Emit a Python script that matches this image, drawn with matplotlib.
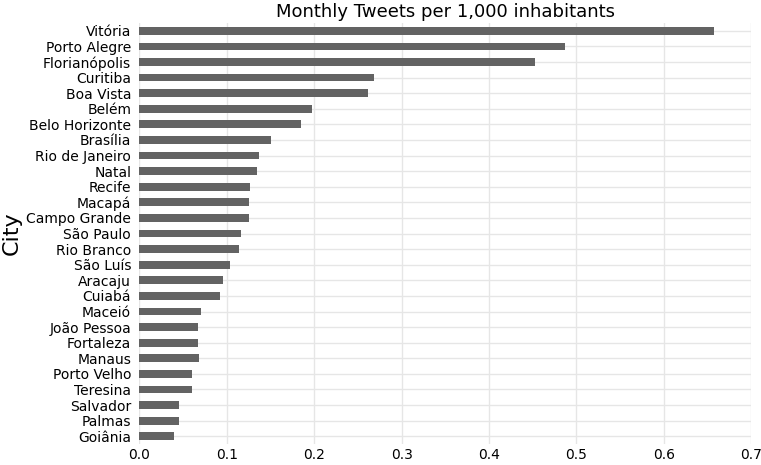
import matplotlib
matplotlib.use('Agg')
import matplotlib.pyplot as plt

# Monthly tweets per 1,000 inhabitants (top to bottom)
cities = ['Vitória', 'Porto Alegre', 'Florianópolis', 'Curitiba', 'Boa Vista',
          'Belém', 'Belo Horizonte', 'Brasília', 'Rio de Janeiro', 'Natal',
          'Recife', 'Macapá', 'Campo Grande', 'São Paulo', 'Rio Branco',
          'São Luís', 'Aracaju', 'Cuiabá', 'Maceió', 'João Pessoa',
          'Fortaleza', 'Manaus', 'Porto Velho', 'Teresina', 'Salvador',
          'Palmas', 'Goiânia']
tweets = [0.658, 0.487, 0.453, 0.269, 0.261,
          0.198, 0.185, 0.151, 0.137, 0.135,
          0.127, 0.125, 0.125, 0.116, 0.114,
          0.104, 0.0955, 0.0925, 0.070, 0.067,
          0.067, 0.068, 0.060, 0.0597, 0.0455,
          0.0455, 0.040]
xticks = [0.0, 0.1, 0.2, 0.3, 0.4, 0.5, 0.6, 0.7]

BAR = '#636363'
GRID = '#e6e6e6'

fig = plt.figure(figsize=(7.61, 4.65), dpi=100)
ax = fig.add_axes([0.1833, 0.045, 0.8036, 0.9055])

pos = list(range(len(cities)))[::-1]
ax.barh(pos, tweets, height=0.5, color=BAR, zorder=3)

ax.set_yticks(pos)
ax.set_yticklabels(cities, fontsize=10)
ax.set_ylim(-0.5, len(cities) - 0.5)
ax.set_xticks(xticks)
ax.set_xticklabels([f"{t:.1f}" for t in xticks], fontsize=10)
ax.set_xlim(0, 0.7)

ax.grid(True, color=GRID, linewidth=1.0, zorder=0)
ax.tick_params(axis='y', length=0, pad=6)
ax.tick_params(axis='x', length=0, pad=3)
for spine in ax.spines.values():
    spine.set_visible(False)

ax.set_title('Monthly Tweets per 1,000 inhabitants', fontsize=13, pad=4)
ax.set_ylabel('City', fontsize=16)
ax.yaxis.set_label_coords(-0.193, 0.5)

fig.savefig('out.png', dpi=100, facecolor='white')
